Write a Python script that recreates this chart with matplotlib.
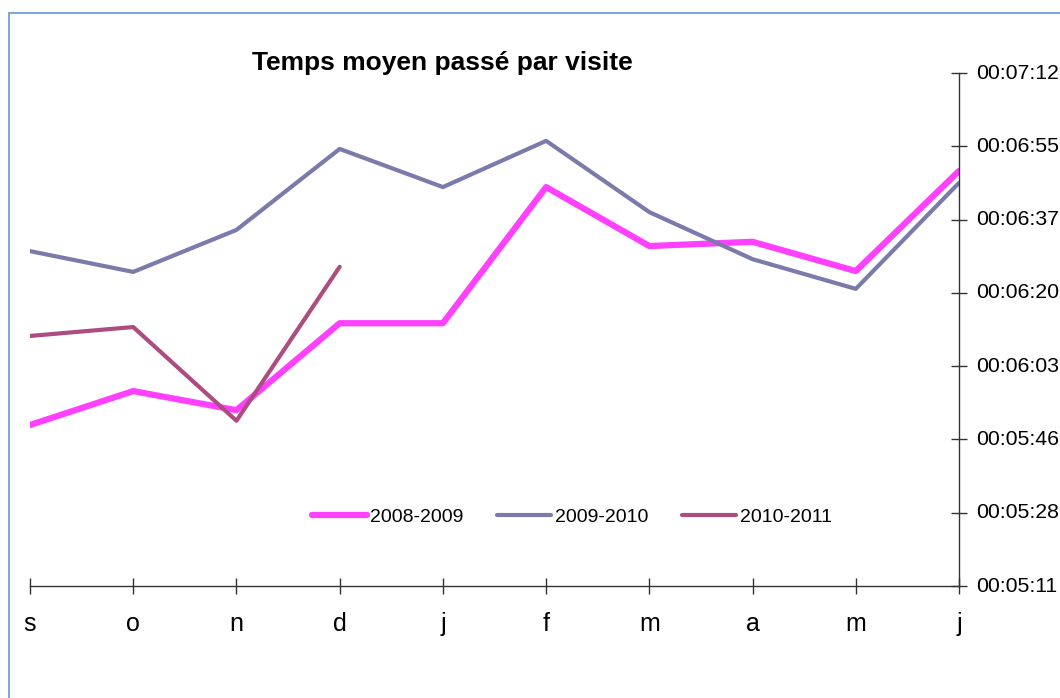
import matplotlib
import matplotlib.pyplot as plt
from matplotlib.patches import Rectangle
from matplotlib.ticker import FuncFormatter

matplotlib.use('Agg')

''' Temps moyen passé par visite, three seasons, values in seconds '''

plt.rcParams['font.family'] = ['Liberation Sans', 'DejaVu Sans']

months = ['s', 'o', 'n', 'd', 'j', 'f', 'm', 'a', 'm', 'j']
seasons = ['2008-2009', '2009-2010', '2010-2011']

# average duration in seconds
sec_0809 = [349.0, 357.0, 352.5, 373.0, 373.0, 405.1, 391.2, 392.2, 385.3, 408.9]
sec_0910 = [390.0, 385.1, 395.0, 414.1, 405.1, 416.0, 399.2, 388.1, 381.1, 406.1]
sec_1011 = [370.0, 372.1, 350.0, 386.3]

# excel time axis: 0.0036 to 0.0050 days, step 0.0002
yticks = [0.0036 + 0.0002 * i for i in range(8)]
yticks = [d * 86400 for d in yticks]


def hms(val, pos=None):
    s = int(round(val))
    return '%02d:%02d:%02d' % (s // 3600, (s % 3600) // 60, s % 60)


fig = plt.figure(figsize=(10.6, 6.98), dpi=100)
W, H = 1060, 698

# chart area border
fig.patches.append(Rectangle((9 / W, -0.1), 1.2, 1 - 13 / H + 0.1,
                             transform=fig.transFigure, fill=False,
                             edgecolor='#6F9FD8', linewidth=1.3))

ax = fig.add_axes([30 / W, (H - 586) / H, (959 - 30) / W, (586 - 73) / H])

x = list(range(len(months)))
ax.plot(x, sec_0809, color='#FF40FF', linewidth=4.5, label=seasons[0],
        solid_capstyle='round', solid_joinstyle='round')
ax.plot(x, sec_0910, color='#7A7BAA', linewidth=3, label=seasons[1],
        solid_capstyle='round', solid_joinstyle='round')
ax.plot(x[:len(sec_1011)], sec_1011, color='#AD4C80', linewidth=3, label=seasons[2],
        solid_capstyle='round', solid_joinstyle='round')

ax.set_xlim(0, 9)
ax.set_ylim(yticks[0], yticks[-1])
ax.set_xticks(x)
ax.set_xticklabels(months)
ax.set_yticks(yticks)
ax.yaxis.set_major_formatter(FuncFormatter(hms))
ax.yaxis.tick_right()

for sp in ['top', 'left']:
    ax.spines[sp].set_visible(False)
for sp in ['right', 'bottom']:
    ax.spines[sp].set_color('#333333')
    ax.spines[sp].set_linewidth(1)

ax.tick_params(axis='x', direction='inout', length=11, width=1, color='#333333',
               labelsize=18, pad=13)
ax.tick_params(axis='y', direction='inout', length=11, width=1, color='#333333',
               labelsize=15.3, pad=7)
for lbl in ax.get_yticklabels():
    lbl.set_verticalalignment('center')

ax.set_title('Temps moyen passé par visite', fontsize=19, fontweight='bold',
             x=(442 - 30) / 929, y=1.0, pad=2)

ax.legend(loc='center', bbox_to_anchor=((572 - 30) / 929, (586 - 517) / 513),
          ncol=3, frameon=False, fontsize=14, handlelength=2.8,
          handletextpad=0.2, columnspacing=1.7)

fig.savefig('out.png', dpi=100, facecolor='white')
